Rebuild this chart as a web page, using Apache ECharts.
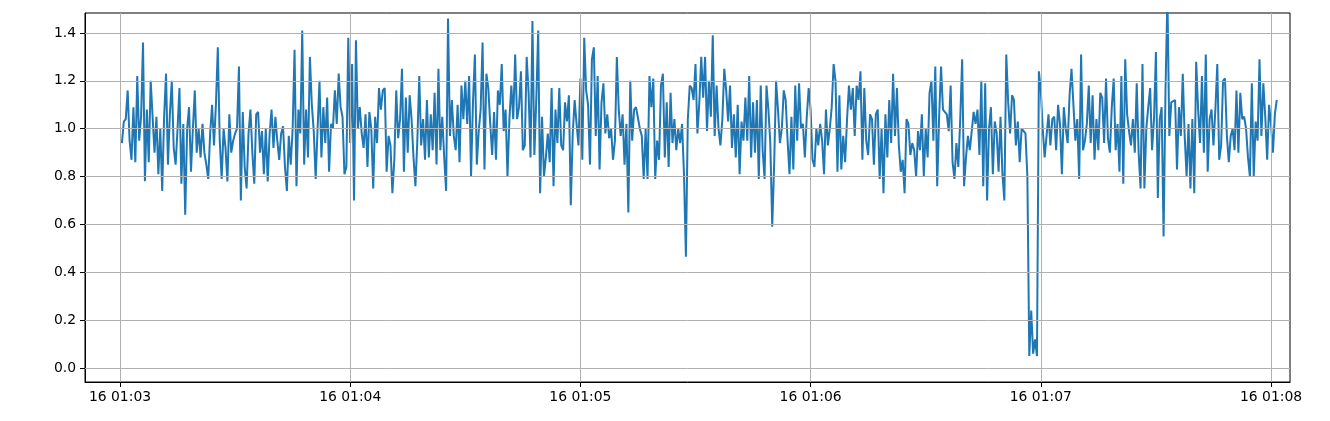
<!DOCTYPE html>
<html>
<head>
<meta charset="utf-8">
<script src="https://cdn.jsdelivr.net/npm/echarts@6/dist/echarts.min.js"></script>
<style>
html,body{margin:0;padding:0;background:#fff;}
#chart{width:1330px;height:421px;}
</style>
</head>
<body>
<div id="chart"></div>
<script>
// Time of first sample, in seconds after 16 01:03:00, and sampling step (s)
const T_START = 0.5;
const T_STEP = 0.5;

const values = [
  // 0.5 - 10 s
  0.94,1.03,1.04,1.16,0.95,0.87,1.09,0.86,1.22,0.95,1.05,1.36,0.78,1.08,0.86,1.20,1.20,0.90,1.05,0.81,
  // 10.5 - 20
  1.00,0.74,1.05,1.23,0.85,1.06,1.20,0.92,0.85,1.00,1.17,0.77,1.02,0.64,1.00,1.09,0.82,1.00,1.16,0.90,
  // 20.5 - 30
  1.00,0.88,1.02,0.90,0.85,0.79,0.98,1.10,0.93,1.10,1.34,0.95,0.79,1.00,0.92,0.78,1.06,0.90,0.95,0.98,
  // 30.5 - 40
  1.00,1.26,0.70,1.07,0.84,0.75,0.98,1.08,0.90,0.77,1.06,1.07,0.90,0.99,0.81,1.00,0.78,0.98,1.08,0.92,
  // 40.5 - 50
  1.05,0.95,0.87,0.98,1.01,0.84,0.74,0.97,0.85,1.00,1.33,0.76,1.08,0.98,1.41,0.85,1.08,0.88,1.30,1.10,
  // 50.5 - 60
  0.99,0.79,1.00,1.20,0.88,1.09,0.94,1.13,0.82,1.02,1.00,1.16,1.02,1.23,1.09,1.05,0.81,0.84,1.38,0.94,
  // 60.5 - 70
  1.27,0.70,1.37,1.00,1.09,0.98,0.92,1.06,0.84,1.07,1.00,0.75,1.05,0.94,1.17,1.08,1.16,1.17,0.82,0.97,
  // 70.5 - 80
  0.93,0.73,0.87,1.16,0.96,1.04,1.25,0.82,1.13,0.90,1.14,1.04,0.88,0.76,0.95,1.22,0.93,1.04,0.87,1.12,
  // 80.5 - 90
  0.88,1.06,0.91,1.15,0.85,1.25,0.91,1.05,0.88,0.74,1.46,0.97,1.12,0.97,0.91,1.10,0.86,1.18,1.04,1.20,
  // 90.5 - 100
  1.02,1.22,0.80,1.11,1.31,0.85,0.99,1.08,1.36,0.83,1.23,1.17,1.02,0.89,1.07,0.87,1.16,1.10,1.27,0.99,
  // 100.5 - 110
  1.08,0.80,1.04,1.18,1.04,1.31,1.04,1.09,1.24,0.91,0.93,1.30,1.15,0.88,1.45,0.89,1.12,1.41,0.73,1.05,
  // 110.5 - 120
  0.80,0.88,0.98,0.86,1.17,0.76,1.08,0.94,1.17,0.93,0.91,1.11,1.03,1.14,0.68,0.98,1.12,1.02,0.93,1.21,
  // 120.5 - 130
  0.87,1.38,1.16,1.10,0.85,1.29,1.34,0.97,1.22,0.83,1.11,1.19,0.98,1.06,0.96,1.00,0.87,0.95,1.30,1.08,
  // 130.5 - 140
  0.97,1.06,0.85,1.02,0.65,1.20,0.95,1.08,1.09,1.09,1.00,0.97,0.79,1.00,0.79,1.22,1.09,1.21,0.79,0.95,
  // 140.5 - 150
  0.87,1.18,1.23,0.88,1.11,0.84,1.15,0.94,1.04,0.91,1.00,0.94,1.02,0.81,0.465,1.04,1.18,1.17,1.12,1.27,
  // 150.5 - 160
  0.98,1.11,1.30,1.13,1.30,0.99,1.20,1.05,1.39,0.97,1.18,1.00,0.93,1.04,1.25,1.16,1.03,1.18,0.92,1.06,
  // 160.5 - 170
  0.88,1.10,0.81,1.03,0.95,1.13,0.95,1.22,0.88,1.11,0.90,1.12,0.79,1.18,0.91,0.79,1.18,1.08,0.94,0.59,
  // 170.5 - 180
  0.85,1.20,1.08,0.94,1.00,1.16,1.12,0.95,0.81,1.05,0.83,1.18,0.95,1.19,1.00,1.02,0.88,1.05,1.17,1.08,
  // 180.5 - 190
  0.87,0.84,1.00,0.93,1.02,0.95,0.81,1.08,0.93,1.00,1.09,1.27,1.20,0.82,1.14,0.83,0.97,0.86,1.04,1.18,
  // 190.5 - 200
  1.08,1.17,0.97,1.18,1.12,1.24,0.87,1.17,0.95,0.89,1.06,1.04,0.85,1.06,1.08,0.79,1.00,0.73,1.06,0.88,
  // 200.5 - 210
  1.12,0.94,1.23,0.97,1.17,0.93,0.82,0.87,0.73,1.04,1.02,0.89,0.94,0.91,0.80,0.99,0.91,1.06,0.80,1.00,
  // 210.5 - 220
  0.88,1.15,1.20,0.95,1.26,0.76,1.05,1.26,1.08,1.08,1.06,0.99,1.18,0.86,0.79,0.94,0.84,1.04,1.29,0.76,
  // 220.5 - 230
  0.88,0.97,0.91,0.91,1.07,1.02,1.08,0.89,1.20,0.76,1.19,0.70,1.00,1.09,0.81,1.03,0.98,0.82,1.05,0.81,
  // 230.5 - 240
  0.70,1.31,1.11,0.98,1.14,1.12,0.93,1.03,0.86,1.00,1.00,0.98,0.80,0.05,0.24,0.06,0.12,0.05,1.24,1.16,
  // 240.5 - 250
  1.00,0.88,0.97,1.06,0.93,1.04,1.05,0.91,1.10,1.02,0.81,1.09,1.00,0.94,1.14,1.25,1.25,0.95,1.04,0.79,
  // 250.5 - 260
  1.31,0.91,0.95,1.02,1.18,0.94,1.14,0.87,1.04,0.91,1.15,1.13,0.94,1.21,0.96,0.90,1.09,1.21,0.91,1.02,
  // 260.5 - 270
  0.82,1.22,0.77,1.29,1.06,0.99,0.93,1.04,0.90,1.19,0.90,0.75,1.27,0.75,1.00,1.09,1.17,0.91,1.04,1.32,
  // 270.5 - 280
  0.71,1.04,1.09,0.55,1.16,1.55,0.97,1.11,1.11,1.12,0.83,1.09,0.97,1.23,0.97,0.80,1.02,0.75,1.04,0.73,
  // 280.5 - 290
  1.28,1.08,0.94,1.22,0.90,1.31,0.82,1.04,1.08,0.93,1.08,1.27,0.87,0.93,1.20,1.21,0.97,0.86,0.97,1.00,
  // 290.5 - 301.5
  0.91,1.16,0.90,1.15,1.04,1.05,1.00,0.88,0.80,1.19,0.80,1.03,0.95,1.29,0.97,1.19,1.05,0.87,1.10,1.02,0.90,1.06,1.12
];

// Axis ticks
const xTickValues = [0, 60, 120, 180, 240, 300];
const xTickLabels = ['16 01:03', '16 01:04', '16 01:05', '16 01:06', '16 01:07', '16 01:08'];
const yTickValues = [0, 0.2, 0.4, 0.6, 0.8, 1.0, 1.2, 1.4];
const yTickLabels = ['0.0', '0.2', '0.4', '0.6', '0.8', '1.0', '1.2', '1.4'];

const X_MIN = -9.12, X_MAX = 304.95;
const Y_MIN = -0.0585, Y_MAX = 1.4835;

const seriesData = values.map((v, i) => [T_START + i * T_STEP, v]);

const gridLines = xTickValues.map(v => ({ xAxis: v })).concat(yTickValues.map(v => ({ yAxis: v })));

const chart = echarts.init(document.getElementById('chart'), null, { renderer: 'canvas' });
const axisText = { color: '#000', fontSize: 13.9, fontFamily: 'DejaVu Sans' };
chart.setOption({
  animation: false,
  backgroundColor: '#fff',
  grid: { left: 85, right: 40, top: 13, bottom: 39, show: true, borderColor: '#000', borderWidth: 1, backgroundColor: 'transparent' },
  xAxis: {
    type: 'value', min: X_MIN, max: X_MAX,
    axisLine: { show: true, onZero: false, lineStyle: { color: '#000', width: 1 } },
    axisTick: { show: true, length: 5, customValues: xTickValues, lineStyle: { color: '#000' } },
    axisLabel: Object.assign({ margin: 8, customValues: xTickValues,
      formatter: v => { const k = xTickValues.indexOf(v); return k >= 0 ? xTickLabels[k] : ''; } }, axisText),
    splitLine: { show: false }
  },
  yAxis: {
    type: 'value', min: Y_MIN, max: Y_MAX,
    axisLine: { show: true, onZero: false, lineStyle: { color: '#000', width: 1 } },
    axisTick: { show: true, length: 5, customValues: yTickValues, lineStyle: { color: '#000' } },
    axisLabel: Object.assign({ margin: 9, customValues: yTickValues,
      formatter: v => { const k = yTickValues.findIndex(t => Math.abs(t - v) < 1e-9); return k >= 0 ? yTickLabels[k] : ''; } }, axisText),
    splitLine: { show: false }
  },
  series: [
    {
      type: 'line', data: [], z: 1, silent: true,
      markLine: {
        silent: true, symbol: 'none', animation: false,
        label: { show: false },
        lineStyle: { color: '#b0b0b0', width: 1, type: 'solid' },
        emphasis: { disabled: true },
        data: gridLines
      }
    },
    {
      type: 'line', data: seriesData, showSymbol: false, clip: true, z: 3,
      lineStyle: { color: '#1f77b4', width: 2 }, itemStyle: { color: '#1f77b4' }
    }
  ]
});
</script>
</body>
</html>
